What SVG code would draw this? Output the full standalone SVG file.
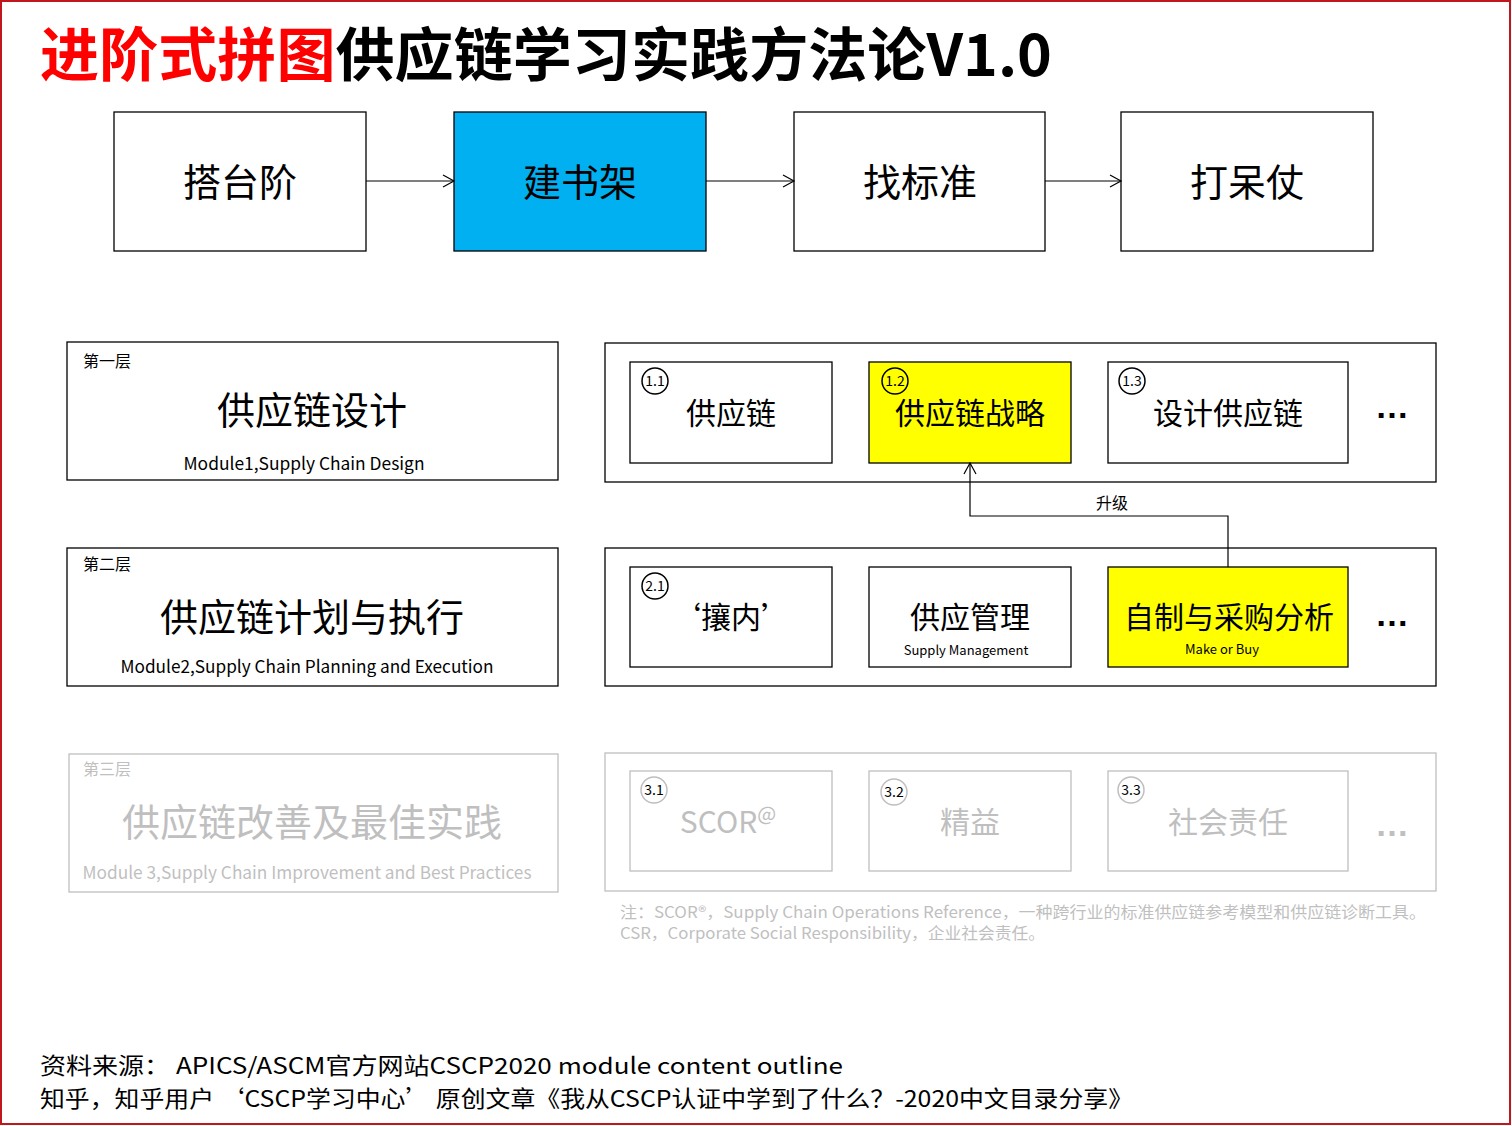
<svg xmlns="http://www.w3.org/2000/svg" width="1512" height="1126" viewBox="0 0 1512 1126">
<style>
.cjk{font-family:"Noto Sans CJK SC","Noto Sans",sans-serif}
.box{fill:#fff;stroke:#000;stroke-width:1.3}
.gbox{fill:#fff;stroke:#bfbfbf;stroke-width:1.3}
.big{font-size:38px;text-anchor:middle;fill:#000}
.mid{font-size:30px;text-anchor:middle;fill:#000}
.small{font-size:17.5px;text-anchor:middle;fill:#000}
.lbl{font-size:16px;fill:#000}
.gray{fill:#bfbfbf}
.badge{fill:none;stroke:#000;stroke-width:1.5}
.gbadge{fill:none;stroke:#bfbfbf;stroke-width:1.5}
.bt{font-size:14px;text-anchor:middle;fill:#000}
.dots{font-family:"Liberation Sans",sans-serif;font-weight:bold;font-size:34px;text-anchor:middle}
.conn{fill:none;stroke:#000;stroke-width:1.2}
</style>
<defs>
<marker id="arr" markerUnits="userSpaceOnUse" markerWidth="14" markerHeight="14" refX="12" refY="7" orient="auto">
<path d="M1,1 L12,7 L1,13" fill="none" stroke="#000" stroke-width="1.2"/>
</marker>
</defs>
<rect x="1" y="1" width="1509" height="1123" fill="#fff" stroke="#c0161d" stroke-width="2"/>

<g id="title">
<text class="cjk" x="40" y="76" font-size="58" font-weight="bold" textLength="1012" lengthAdjust="spacingAndGlyphs"><tspan fill="#ff0000">进阶式拼图</tspan><tspan fill="#000">供应链学习实践方法论V1.0</tspan></text>
</g>

<g id="step1"><rect class="box" x="114" y="112" width="252" height="139"/><text class="cjk big" x="240" y="196">搭台阶</text></g>
<g id="step2"><rect x="454" y="112" width="252" height="139" fill="#00b0f0" stroke="#000" stroke-width="1.3"/><text class="cjk big" x="580" y="196">建书架</text></g>
<g id="step3"><rect class="box" x="794" y="112" width="251" height="139"/><text class="cjk big" x="920" y="196">找标准</text></g>
<g id="step4"><rect class="box" x="1121" y="112" width="252" height="139"/><text class="cjk big" x="1247" y="196">打呆仗</text></g>

<g id="layer1">
<rect class="box" x="67" y="342" width="491" height="138"/>
<text class="cjk lbl" x="83" y="367">第一层</text>
<text class="cjk big" x="312" y="424">供应链设计</text>
<text class="cjk small" x="304" y="470" textLength="241" lengthAdjust="spacingAndGlyphs">Module1,Supply Chain Design</text>
</g>
<g id="layer2">
<rect class="box" x="67" y="548" width="491" height="138"/>
<text class="cjk lbl" x="83" y="570">第二层</text>
<text class="cjk big" x="312" y="631">供应链计划与执行</text>
<text class="cjk small" x="307" y="673" textLength="373" lengthAdjust="spacingAndGlyphs">Module2,Supply Chain Planning and Execution</text>
</g>
<g id="layer3">
<rect class="gbox" x="69" y="754" width="489" height="138"/>
<text class="cjk lbl gray" x="83" y="775">第三层</text>
<text class="cjk big gray" x="312" y="836">供应链改善及最佳实践</text>
<text class="cjk small gray" x="307" y="879" textLength="449" lengthAdjust="spacingAndGlyphs">Module 3,Supply Chain Improvement and Best Practices</text>
</g>

<g id="row1">
<rect class="box" x="605" y="343" width="831" height="139"/>
</g>
<g id="m11">
<rect class="box" x="630" y="362" width="202" height="101"/>
<circle class="badge" cx="655" cy="381" r="13"/><text class="cjk bt" x="655" y="386">1.1</text>
<text class="cjk mid" x="731" y="424">供应链</text>
</g>
<g id="m12">
<rect x="869" y="362" width="202" height="101" fill="#ffff00" stroke="#000" stroke-width="1.3"/>
<circle class="badge" cx="895" cy="381" r="13"/><text class="cjk bt" x="895" y="386">1.2</text>
<text class="cjk mid" x="970" y="424">供应链战略</text>
</g>
<g id="m13">
<rect class="box" x="1108" y="362" width="240" height="101"/>
<circle class="badge" cx="1132" cy="381" r="13"/><text class="cjk bt" x="1132" y="386">1.3</text>
<text class="cjk mid" x="1228" y="424">设计供应链</text>
</g>
<text class="dots" x="1392" y="418">…</text>

<g id="row2">
<rect class="box" x="605" y="548" width="831" height="138"/>
</g>
<g id="m21">
<rect class="box" x="630" y="567" width="202" height="100"/>
<circle class="badge" cx="655" cy="586" r="13"/><text class="cjk bt" x="655" y="591">2.1</text>
<text class="cjk mid" x="731" y="628">‘攘内’</text>
</g>
<g id="m22">
<rect class="box" x="869" y="567" width="202" height="100"/>
<text class="cjk mid" x="970" y="628">供应管理</text>
<text class="cjk" x="966" y="655" font-size="13" text-anchor="middle">Supply Management</text>
</g>
<g id="m23">
<rect x="1108" y="567" width="240" height="100" fill="#ffff00" stroke="#000" stroke-width="1.3"/>
<text class="cjk mid" x="1229" y="628">自制与采购分析</text>
<text class="cjk" x="1222" y="654" font-size="13" text-anchor="middle">Make or Buy</text>
</g>
<text class="dots" x="1392" y="626">…</text>

<g id="row3">
<rect class="gbox" x="605" y="753" width="831" height="138"/>
</g>
<g id="m31">
<rect class="gbox" x="630" y="771" width="202" height="100"/>
<circle class="gbadge" cx="654" cy="790" r="13"/><text class="cjk bt gray" x="654" y="795">3.1</text>
<text class="cjk mid gray" x="728" y="833">SCOR<tspan font-size="20" dy="-12">@</tspan></text>
</g>
<g id="m32">
<rect class="gbox" x="869" y="771" width="202" height="100"/>
<circle class="gbadge" cx="894" cy="792" r="13"/><text class="cjk bt gray" x="894" y="797">3.2</text>
<text class="cjk mid gray" x="970" y="833">精益</text>
</g>
<g id="m33">
<rect class="gbox" x="1108" y="771" width="240" height="100"/>
<circle class="gbadge" cx="1131" cy="790" r="13"/><text class="cjk bt gray" x="1131" y="795">3.3</text>
<text class="cjk mid gray" x="1228" y="833">社会责任</text>
</g>
<text class="dots gray" x="1392" y="836">…</text>

<g id="note">
<text class="cjk gray" x="620" y="918" font-size="16" textLength="806" lengthAdjust="spacingAndGlyphs">注：SCOR®，Supply Chain Operations Reference，一种跨行业的标准供应链参考模型和供应链诊断工具。</text>
<text class="cjk gray" x="620" y="939" font-size="16" textLength="425" lengthAdjust="spacingAndGlyphs">CSR，Corporate Social Responsibility，企业社会责任。</text>
</g>

<g id="source">
<text class="cjk" x="40" y="1074" font-size="22.5" textLength="803" lengthAdjust="spacingAndGlyphs">资料来源： APICS/ASCM官方网站CSCP2020 module content outline</text>
<text class="cjk" x="40" y="1107" font-size="22.5" textLength="1093" lengthAdjust="spacingAndGlyphs">知乎，知乎用户 ‘CSCP学习中心’ 原创文章《我从CSCP认证中学到了什么？-2020中文目录分享》</text>
</g>

<g id="connectors">
<line class="conn" x1="366" y1="181" x2="454" y2="181" marker-end="url(#arr)"/>
<line class="conn" x1="706" y1="181" x2="794" y2="181" marker-end="url(#arr)"/>
<line class="conn" x1="1045" y1="181" x2="1121" y2="181" marker-end="url(#arr)"/>
<path class="conn" d="M1228,567 V516 H970 V463" marker-end="url(#arr)"/>
<text class="cjk lbl" x="1112" y="509" text-anchor="middle">升级</text>
</g>
</svg>
